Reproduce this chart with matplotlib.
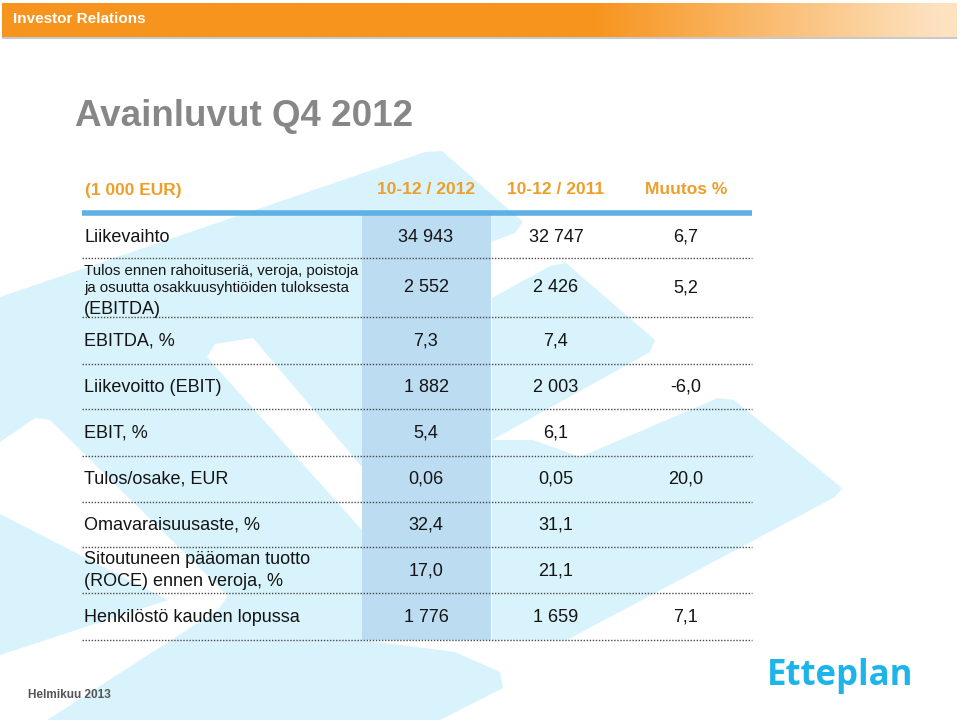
import matplotlib
matplotlib.use("Agg")
import matplotlib.pyplot as plt
import numpy as np
from matplotlib.patches import Polygon, Rectangle

# ---------------- data ----------------
title = "Avainluvut Q4 2012"
unit_label = "(1 000 EUR)"
col_headers = ["10-12 / 2012", "10-12 / 2011", "Muutos %"]
row_labels = [
    ["Liikevaihto"],
    ["Tulos ennen rahoituseriä, veroja, poistoja",
     "ja osuutta osakkuusyhtiöiden tuloksesta", "(EBITDA)"],
    ["EBITDA, %"],
    ["Liikevoitto (EBIT)"],
    ["EBIT, %"],
    ["Tulos/osake, EUR"],
    ["Omavaraisuusaste, %"],
    ["Sitoutuneen pääoman tuotto", "(ROCE) ennen veroja, %"],
    ["Henkilöstö kauden lopussa"],
]
values_2012 = ["34 943", "2 552", "7,3", "1 882", "5,4", "0,06", "32,4", "17,0", "1 776"]
values_2011 = ["32 747", "2 426", "7,4", "2 003", "6,1", "0,05", "31,1", "21,1", "1 659"]
change_pct = ["6,7", "5,2", "", "-6,0", "", "20,0", "", "", "7,1"]
footer = "Helmikuu 2013"
header_text = "Investor Relations"
logo_text = "Etteplan"

# ---------------- style ----------------
FONT = ["Liberation Sans", "DejaVu Sans"]
plt.rcParams["font.family"] = FONT
ORANGE = "#ee9e2a"
CYAN = "#d8f3fb"
COLBLUE = "#bcdcf2"
LINEBLUE = "#5fb0e4"
TXT = "#141414"

fig = plt.figure(figsize=(9.6, 7.2), dpi=100)
ax = fig.add_axes([0, 0, 1, 1])
ax.set_xlim(0, 960)
ax.set_ylim(720, 0)
ax.axis("off")

# ---------------- background shapes ----------------
cyan_shapes = [
    [(0, 297), (425, 152), (442, 151), (523, 222), (515, 233), (362, 290),
     (362, 640), (455, 652), (500, 672), (503, 688), (440, 720), (0, 720)],
    [(492, 298), (550, 266), (566, 263), (655, 340), (650, 352), (492, 440)],
    [(492, 440), (533, 440), (580, 457), (718, 398), (734, 400), (842, 488),
     (835, 497), (567, 640), (492, 640)],
]
white_shapes = [
    [(207, 357), (215, 344), (253, 338), (362, 467), (362, 530)],
    [(0, 442), (35, 418), (50, 420), (228, 596), (218, 610), (47, 720), (0, 720),
     (0, 655), (168, 600), (0, 514)],
]
for pts in cyan_shapes:
    ax.add_patch(Polygon(pts, closed=True, facecolor=CYAN, edgecolor="none",
                         joinstyle="round", zorder=0))
for pts in white_shapes:
    ax.add_patch(Polygon(pts, closed=True, facecolor="white", edgecolor="none",
                         zorder=0.5))

# ---------------- header bar ----------------
xs = np.linspace(0, 1, 400)
c0 = np.array([247, 148, 30]) / 255
c1 = np.array([253, 226, 192]) / 255
t = np.clip((xs - 0.62) / 0.36, 0, 1)
grad = (c0[None, :] * (1 - t[:, None]) + c1[None, :] * t[:, None])[None, :, :]
ax.imshow(grad, extent=(2, 957, 37, 3), aspect="auto", zorder=1)
ax.add_patch(Rectangle((2, 37), 955, 2, facecolor="#c9c9c9", edgecolor="none", zorder=1))
ax.text(13, 19, header_text, color="white", fontsize=11, fontweight="bold",
        va="center", ha="left", zorder=2)

# ---------------- title ----------------
ax.text(75, 117, title, color="#878787", fontsize=26.5, fontweight="bold",
        va="center", ha="left", zorder=2)

# ---------------- table ----------------
col_x = [426, 556, 686]
col_left, col_right = 362, 491
table_left, table_right = 82, 752

ax.text(85, 190, unit_label, color=ORANGE, fontsize=12.5, fontweight="bold",
        va="center", ha="left", zorder=3)
for cx, h in zip(col_x, col_headers):
    ax.text(cx, 190, h, color=ORANGE, fontsize=12.5, fontweight="bold",
            va="center", ha="center", zorder=3)

row_tops = [215, 258, 317, 364, 409, 456, 502, 547, 593]
row_bottoms = row_tops[1:] + [640]

ax.add_patch(Rectangle((col_left, 215), col_right - col_left, 640 - 215,
                       facecolor=COLBLUE, edgecolor="none", zorder=1))
ax.plot([table_left, table_right], [213, 213], color=LINEBLUE, lw=4,
        solid_capstyle="butt", zorder=2)

for i, (lab, v1, v2, v3) in enumerate(zip(row_labels, values_2012, values_2011, change_pct)):
    top, bot = row_tops[i], row_bottoms[i]
    yc = (top + bot) / 2 + 0.5
    if len(lab) == 1:
        ax.text(84, yc, lab[0], color=TXT, fontsize=13, va="center", ha="left", zorder=3)
    elif len(lab) == 2:
        ax.text(84, yc - 10.5, lab[0], color=TXT, fontsize=13, va="center", ha="left", zorder=3)
        ax.text(84, yc + 10.5, lab[1], color=TXT, fontsize=13, va="center", ha="left", zorder=3)
    else:
        ax.text(84, top + 13, lab[0], color=TXT, fontsize=10.8, va="center", ha="left", zorder=3)
        ax.text(84, top + 30, lab[1], color=TXT, fontsize=10.8, va="center", ha="left", zorder=3)
        ax.text(84, top + 51, lab[2], color=TXT, fontsize=13, va="center", ha="left", zorder=3)
    for cx, v in zip(col_x, [v1, v2, v3]):
        if v:
            ax.text(cx, yc, v, color=TXT, fontsize=13, va="center", ha="center", zorder=3)
    ax.plot([table_left, table_right], [bot, bot], color="#4a4a4a", lw=1.0,
            linestyle=(0, (1, 1.2)), zorder=2)

# ---------------- footer ----------------
ax.text(28, 695, footer, color="#555555", fontsize=8.5, fontweight="bold",
        va="center", ha="left", zorder=3)
ax.text(840, 676, logo_text, color="#1db4e9", fontsize=25, fontweight="bold",
        family=["Open Sans", "DejaVu Sans"], va="center", ha="center", zorder=3)

fig.savefig("out.png", dpi=100)
